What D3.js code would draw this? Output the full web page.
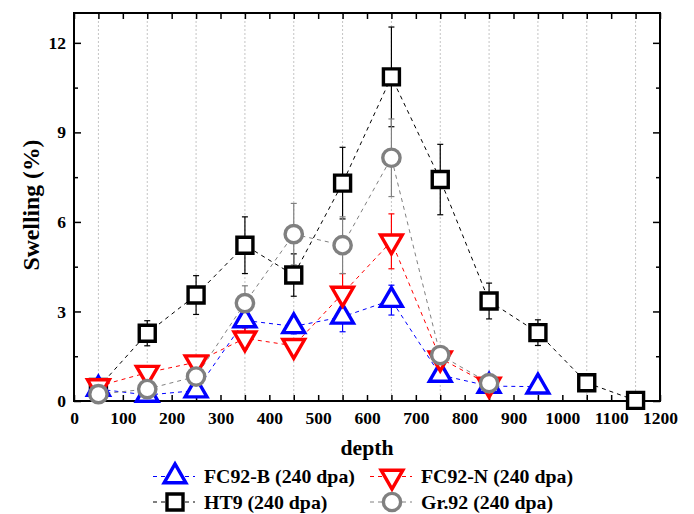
<!DOCTYPE html>
<html>
<head>
<meta charset="utf-8">
<script src="https://cdn.jsdelivr.net/npm/d3@7"></script>
<style>
  body { margin: 0; background: #fff; }
  svg text { font-family: "Liberation Serif", "Times New Roman", serif; font-weight: bold; fill: #000; }
</style>
</head>
<body>
<div id="chart"></div>
<script>
// depth positions and swelling values
const depth = [50, 150, 250, 350, 450, 550, 650, 750, 850, 950, 1050, 1150];

const fc92b    = [0.40, 0.20, 0.35, 2.70, 2.50, 2.82, 3.38, 0.87, 0.50, 0.48];
const fc92bErr = [0.15, 0.10, 0.20, 0.43, 0.25, 0.50, 0.50, 0.15, 0.10, 0.10];

const fc92n    = [0.50, 0.95, 1.30, 2.10, 1.85, 3.60, 5.35, 1.43, 0.55];
const fc92nErr = [0.10, 0.10, 0.15, 0.35, 0.20, 0.67, 0.92, 0.10, 0.15];

const ht9    = [0.45, 2.27, 3.55, 5.22, 4.22, 7.30, 10.86, 7.42, 3.35, 2.29, 0.61, 0.02];
const ht9Err = [0.10, 0.42, 0.65, 0.95, 0.71, 1.20, 1.67, 1.18, 0.60, 0.43, 0.12, 0.08];

const gr92    = [0.23, 0.40, 0.82, 3.28, 5.59, 5.22, 8.15, 1.54, 0.60];
const gr92Err = [0.10, 0.10, 0.15, 0.58, 1.03, 0.95, 1.30, 0.10, 0.10];

const xTicks = [0, 100, 200, 300, 400, 500, 600, 700, 800, 900, 1000, 1100, 1200];
const yTicks = [0, 3, 6, 9, 12];

const seriesNames = ["FC92-B (240 dpa)", "FC92-N (240 dpa)", "HT9 (240 dpa)", "Gr.92 (240 dpa)"];

const W = 694, H = 514;
const margin = {top: 13, right: 34, bottom: 113, left: 74},
    width = W - margin.left - margin.right,
    height = H - margin.top - margin.bottom;

const svg = d3.select("#chart")
    .append("svg")
    .attr("width", W)
    .attr("height", H);

// pick a font size so a sample string gets the width seen in the figure
function fitSize(sample, targetW) {
    const t = svg.append("text").style("font-size", "20px").text(sample);
    const w = t.node().getComputedTextLength();
    t.remove();
    return 20 * targetW / w;
}
const tickSize = fitSize("1200", 35);
const titleSize = fitSize("depth", 53);
const yTitleSize = fitSize("Swelling (%)", 131);
const legendSize = fitSize("FC92-B (240 dpa)", 151);

const g = svg.append("g")
    .attr("transform", `translate(${margin.left}, ${margin.top})`);

const x = d3.scaleLinear().domain([0, 1200]).range([0, width]);
const y = d3.scaleLinear().domain([0, 13]).range([height, 0]);

// vertical dotted grid at sample depths
g.append("g")
    .selectAll("line")
    .data(depth)
    .enter()
    .append("line")
    .attr("x1", d => x(d)).attr("x2", d => x(d))
    .attr("y1", 0).attr("y2", height)
    .style("stroke", "#c4c4c4")
    .style("stroke-width", 1)
    .style("stroke-dasharray", "2,2");

// axes (ticks pointing inward)
const xMinor = d3.range(0, 1201, 50);
const yMinor = d3.range(0, 13.1, 1.5);

g.append("g")
    .attr("transform", `translate(0, ${height})`)
    .call(d3.axisBottom(x).tickValues(xMinor).tickSizeInner(-6).tickSizeOuter(0)
        .tickFormat(d => xTicks.includes(d) ? d : ""))
    .call(a => a.selectAll("text").attr("dy", 0).attr("y", 23).style("font-size", tickSize + "px"));

g.append("g")
    .call(d3.axisTop(x).tickValues(xMinor).tickSizeInner(-6).tickSizeOuter(0).tickFormat(""));

g.append("g")
    .call(d3.axisLeft(y).tickValues(yMinor).tickSizeOuter(0)
        .tickFormat(d => yTicks.includes(d) ? d : ""))
    .call(a => {
        a.selectAll(".tick line").attr("x2", d => yTicks.includes(d) ? 7 : 4);
        a.selectAll("text").attr("x", -8).style("font-size", tickSize + "px");
    });

g.append("g")
    .attr("transform", `translate(${width}, 0)`)
    .call(d3.axisRight(y).tickValues(yMinor).tickSizeOuter(0).tickFormat(""))
    .call(a => a.selectAll(".tick line").attr("x2", d => yTicks.includes(d) ? -7 : -4));

g.selectAll(".domain").remove();
g.selectAll(".tick line").style("stroke", "#000").style("stroke-width", 1.5);

// frame
g.append("rect")
    .attr("x", 0).attr("y", 0)
    .attr("width", width).attr("height", height)
    .style("fill", "none")
    .style("stroke", "#000")
    .style("stroke-width", 2);

const series = [
    {name: seriesNames[2], vals: ht9, err: ht9Err, color: "#000000", shape: "square"},
    {name: seriesNames[0], vals: fc92b, err: fc92bErr, color: "#0000ff", shape: "up"},
    {name: seriesNames[1], vals: fc92n, err: fc92nErr, color: "#ff0000", shape: "down"},
    {name: seriesNames[3], vals: gr92, err: gr92Err, color: "#808080", shape: "circle"}
];

function marker(sel, shape, color) {
    if (shape === "square") {
        sel.append("path").attr("d", d3.symbol().type(d3.symbolSquare).size(256)());
    } else if (shape === "circle") {
        sel.append("path").attr("d", d3.symbol().type(d3.symbolCircle).size(235)());
    } else {
        sel.append("path")
            .attr("d", d3.symbol().type(d3.symbolTriangle).size(205)())
            .attr("transform", shape === "down" ? "rotate(180)" : null);
    }
    sel.selectAll("path")
        .style("fill", "#fff")
        .style("stroke", color)
        .style("stroke-width", 3.4)
        .style("stroke-linejoin", "miter");
}

const line = d3.line().x(d => x(d[0])).y(d => y(d[1]));

series.forEach(s => {
    const pts = s.vals.map((v, i) => [depth[i], v, s.err[i]]);
    g.append("path")
        .datum(pts)
        .attr("d", line)
        .style("fill", "none")
        .style("stroke", s.color)
        .style("stroke-width", 1)
        .style("stroke-dasharray", "4,4");
    s.pts = pts;
});

series.forEach(s => {
    const eb = g.append("g").selectAll("g")
        .data(s.pts)
        .enter()
        .append("g")
        .style("stroke", s.color)
        .style("stroke-width", 1.2);
    eb.append("line")
        .attr("x1", d => x(d[0])).attr("x2", d => x(d[0]))
        .attr("y1", d => y(d[1] + d[2])).attr("y2", d => y(d[1] - d[2]));
    eb.append("line")
        .attr("x1", d => x(d[0]) - 3).attr("x2", d => x(d[0]) + 3)
        .attr("y1", d => y(d[1] + d[2])).attr("y2", d => y(d[1] + d[2]));
    eb.append("line")
        .attr("x1", d => x(d[0]) - 3).attr("x2", d => x(d[0]) + 3)
        .attr("y1", d => y(d[1] - d[2])).attr("y2", d => y(d[1] - d[2]));
});

series.forEach(s => {
    g.append("g").selectAll("g")
        .data(s.pts)
        .enter()
        .append("g")
        .attr("transform", d => `translate(${x(d[0])}, ${y(d[1])})`)
        .each(function () { marker(d3.select(this), s.shape, s.color); });
});

// axis titles
svg.append("text")
    .attr("text-anchor", "middle")
    .attr("x", margin.left + width / 2)
    .attr("y", 455)
    .style("font-size", titleSize + "px")
    .text("depth");

svg.append("text")
    .attr("text-anchor", "middle")
    .attr("transform", `translate(39, ${margin.top + 192}) rotate(-90)`)
    .style("font-size", yTitleSize + "px")
    .text("Swelling (%)");

// legend
const legendItems = [
    {s: series[1], lx: 153, ly: 476.5},
    {s: series[2], lx: 370, ly: 476.5},
    {s: series[0], lx: 153, ly: 502},
    {s: series[3], lx: 370, ly: 502}
];

legendItems.forEach(it => {
    const lg = svg.append("g").attr("transform", `translate(${it.lx}, ${it.ly})`);
    lg.append("line")
        .attr("x1", 0).attr("x2", 42).attr("y1", 0).attr("y2", 0)
        .style("stroke", it.s.color)
        .style("stroke-width", 1)
        .style("stroke-dasharray", "4,4");
    const m = lg.append("g").attr("transform", "translate(22, 0)");
    marker(m, it.s.shape, it.s.color);
    lg.append("text")
        .attr("x", 51)
        .attr("y", 6.5)
        .style("font-size", legendSize + "px")
        .text(it.s.name);
});
</script>
</body>
</html>
